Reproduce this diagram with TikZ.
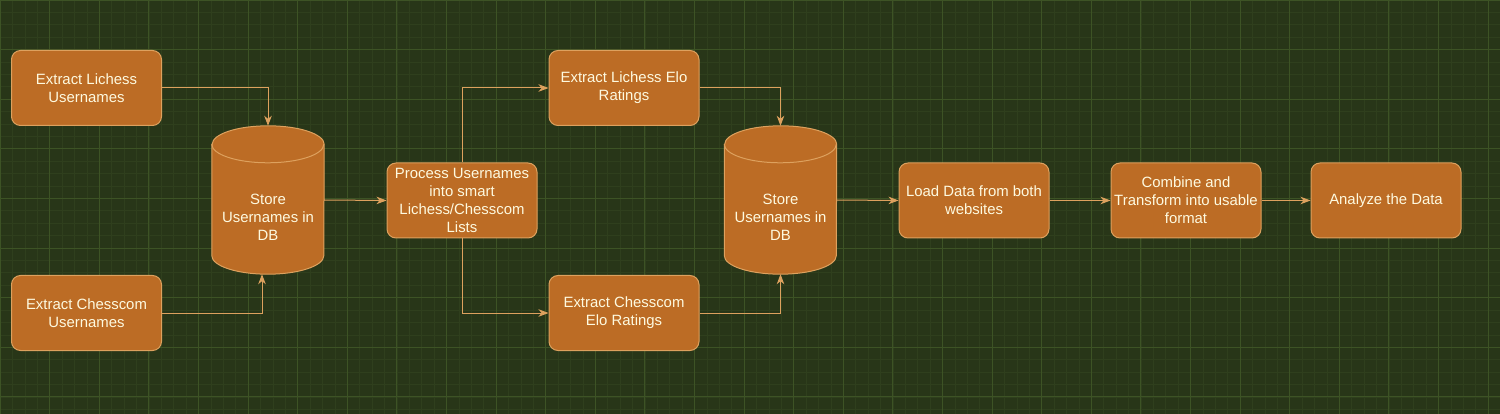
\documentclass[tikz,border=0pt]{standalone}
\usepackage{fontspec}
\setmainfont{Liberation Sans}
\usetikzlibrary{arrows.meta,calc}
\definecolor{bg}{HTML}{283618}
\definecolor{gridminor}{HTML}{2F3F1D}
\definecolor{gridmajor}{HTML}{3D5325}
\definecolor{boxfill}{HTML}{BC6C25}
\definecolor{boxline}{HTML}{DDA15E}
\definecolor{txt}{HTML}{FEFAE0}
\tikzset{
  box/.style={rectangle, rounded corners=9pt, fill=boxfill, draw=boxline, line width=1pt,
    minimum width=150pt, minimum height=75pt, inner sep=0pt, align=center,
    text=txt, font=\fontsize{14.9}{17.9}\selectfont},
  dbnode/.style={rectangle, minimum width=112pt, minimum height=148pt, inner sep=0pt, align=center,
    text=txt, font=\fontsize{14.9}{17.9}\selectfont},
  conn/.style={draw=boxline, line width=1pt, -{Stealth[length=10pt,width=7.5pt,inset=3pt]}},
  cyl/.style={fill=boxfill, draw=boxline, line width=1pt}
}
\newcommand{\mycyl}[1]{%
  \path[cyl] ($( #1.north west)+(0,-18.5)$) -- ($( #1.south west)+(0,18.5)$)
    arc[start angle=180, end angle=360, x radius=56, y radius=18.5]
    -- ($( #1.north east)+(0,-18.5)$)
    arc[start angle=0, end angle=180, x radius=56, y radius=18.5] -- cycle;
  \draw[draw=boxline, line width=1pt] ($( #1.north west)+(0,-18.5)$)
    arc[start angle=180, end angle=360, x radius=56, y radius=18.5];
}
\begin{document}
\begin{tikzpicture}[x=1pt,y=1pt]
\fill[bg] (0,0) rectangle (1500,-414);
\useasboundingbox (0,0) rectangle (1500,-414);
\draw[gridminor, line width=0.6pt] (0,-414) grid[step=12.4] (1500,0);
\draw[gridmajor, line width=0.8pt] (0,-414) grid[step=49.6] (1500,0);

% DB nodes (cylinders)
\node[dbnode] (db1) at (268,-200) {};
\node[dbnode] (db2) at (780.5,-200) {};
\mycyl{db1}
\mycyl{db2}
\node[dbnode] at ($(db1)+(0,-17)$) {Store\\Usernames in\\DB};
\node[dbnode] at ($(db2)+(0,-17)$) {Store\\Usernames in\\DB};

\node[box] (a) at (86.5,-88) {Extract Lichess\\Usernames};
\node[box] (b) at (86.5,-313) {Extract Chesscom\\Usernames};
\node[box] (p) at (462,-200.5) {Process Usernames\\into smart\\Lichess/Chesscom\\Lists};
\node[box] (c) at (624,-88) {Extract Lichess Elo\\Ratings};
\node[box] (d) at (624,-313) {Extract Chesscom\\Elo Ratings};
\node[box] (e) at (974,-200.5) {Load Data from both\\websites};
\node[box] (f) at (1186,-200.5) {Combine and\\Transform into usable\\format};
\node[box] (g) at (1386,-200.5) {Analyze the Data};

\draw[conn] (a.east) -| (db1.north);
\draw[conn] (b.east) -| ([xshift=-6pt]db1.south);
\draw[conn] (db1.east) -- (p.west);
\draw[conn] (p.north) |- (c.west);
\draw[conn] (p.south) |- (d.west);
\draw[conn] (c.east) -| (db2.north);
\draw[conn] (d.east) -| (db2.south);
\draw[conn] (db2.east) -- (e.west);
\draw[conn] (e.east) -- (f.west);
\draw[conn] (f.east) -- (g.west);
\end{tikzpicture}
\end{document}
